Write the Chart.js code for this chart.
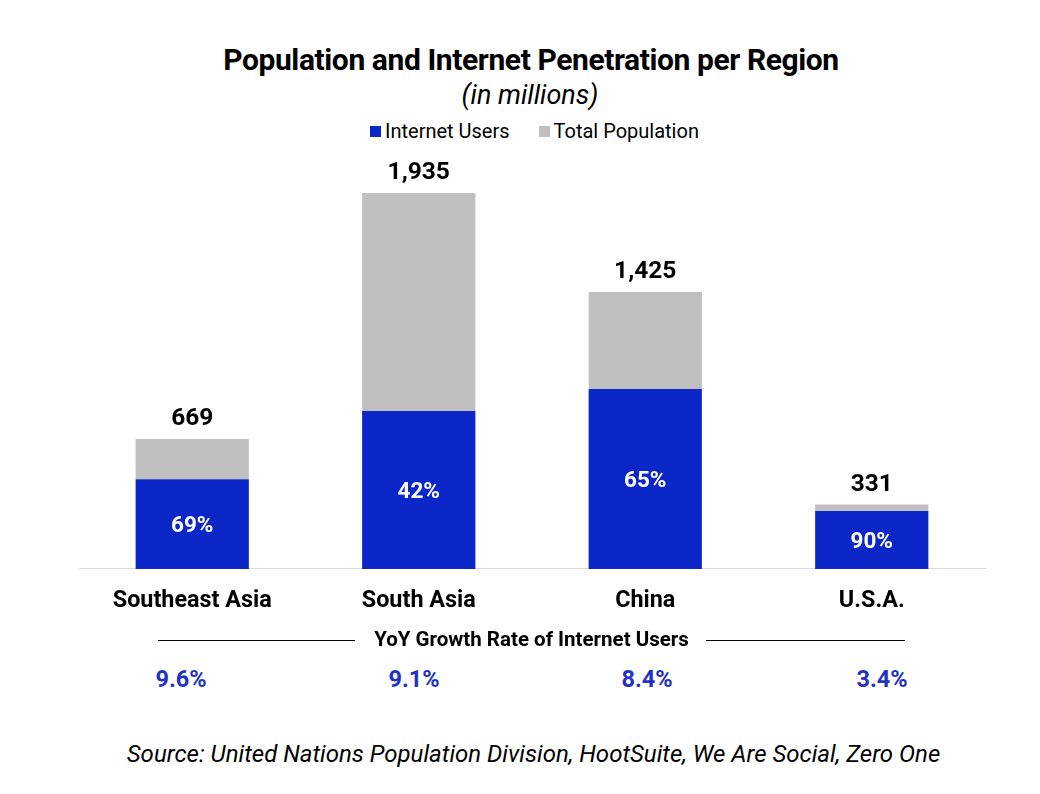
<!DOCTYPE html>
<html>
<head>
<meta charset="utf-8">
<script src="https://cdn.jsdelivr.net/npm/chart.js@4/dist/chart.umd.min.js"></script>
<style>
  html, body { margin: 0; padding: 0; background: #fff; }
  body { width: 1040px; height: 794px; position: relative; overflow: hidden; font-family: Roboto, "Noto Sans", sans-serif; color: #000; }
  .abs { position: absolute; white-space: nowrap; }
  #title { left: 0; width: 1062px; top: 42px; text-align: center; font-weight: 700; font-size: 30px; letter-spacing: -0.4px; }
  #subtitle { left: 0; width: 1060px; top: 79px; text-align: center; font-style: italic; font-size: 27px; }
  #legend { left: 370px; top: 119px; font-size: 20px; display: flex; align-items: center; }
  #legend span.sw { display: inline-block; width: 11px; height: 11px; margin-right: 4px; }
  #legend span.item { display: flex; align-items: center; margin-right: 29px; }
  #chart-wrap { position: absolute; left: 0; top: 140px; width: 1040px; height: 503px; }
  .rule { position: absolute; height: 1px; background: #000; top: 640px; }
  #yoy-title { left: 0; width: 1063px; top: 627px; text-align: center; font-weight: 700; font-size: 20.5px; }
  .yoy { top: 665px; font-weight: 700; font-size: 23.5px; color: #2233c4; transform: translateX(-50%); }
  #source { left: 0; width: 1067px; top: 740px; text-align: center; font-style: italic; font-size: 24px; }
</style>
</head>
<body>
<div id="title" class="abs">Population and Internet Penetration per Region</div>
<div id="subtitle" class="abs">(in millions)</div>
<div id="legend" class="abs"></div>
<div id="chart-wrap"><canvas id="chart"></canvas></div>
<div class="rule" style="left:158px; width:197px;"></div>
<div class="rule" style="left:706px; width:199px;"></div>
<div id="yoy-title" class="abs">YoY Growth Rate of Internet Users</div>
<div id="source" class="abs">Source: United Nations Population Division, HootSuite, We Are Social, Zero One</div>
<script>
const regions = ["Southeast Asia", "South Asia", "China", "U.S.A."];
const totalPopulation = [669, 1935, 1425, 331];
const internetUsers = [462, 813, 926, 298];
const penetration = [69, 42, 65, 90];
const yoyGrowth = ["9.6%", "9.1%", "8.4%", "3.4%"];

const BLUE = "#0c27c8";
const GRAY = "#bfbfbf";

// legenda em html
const legend = document.getElementById("legend");
legend.innerHTML =
  `<span class="item"><span class="sw" style="background:${BLUE}"></span>Internet Users</span>` +
  `<span class="item"><span class="sw" style="background:${GRAY}"></span>Total Population</span>`;

// linha de crescimento anual
const yoyCenters = [181, 414, 647, 882];
yoyGrowth.forEach((txt, i) => {
  const d = document.createElement("div");
  d.className = "abs yoy";
  d.style.left = yoyCenters[i] + "px";
  d.textContent = txt;
  document.body.appendChild(d);
});

// rótulos dentro e acima das barras
const barLabels = {
  id: "barLabels",
  afterDatasetsDraw(chart) {
    const { ctx } = chart;
    const blue = chart.getDatasetMeta(0).data;
    const gray = chart.getDatasetMeta(1).data;
    ctx.save();
    ctx.textAlign = "center";
    ctx.textBaseline = "middle";
    blue.forEach((bar, i) => {
      ctx.fillStyle = "#fff";
      ctx.font = "bold 22.5px Roboto";
      ctx.fillText(penetration[i] + "%", bar.x, (bar.y + bar.base) / 2 + 2);
    });
    gray.forEach((bar, i) => {
      ctx.fillStyle = "#000";
      ctx.font = "bold 24.5px Roboto";
      ctx.fillText(totalPopulation[i].toLocaleString("en-US"), bar.x, bar.y - 20);
    });
    ctx.restore();
  }
};

new Chart(document.getElementById("chart").getContext("2d"), {
  type: "bar",
  data: {
    labels: regions,
    datasets: [
      { label: "Internet Users", data: internetUsers, backgroundColor: BLUE },
      { label: "Total Population", data: totalPopulation.map((t, i) => t - internetUsers[i]), backgroundColor: GRAY }
    ]
  },
  options: {
    responsive: true,
    maintainAspectRatio: false,
    animation: false,
    events: [],
    layout: { padding: { top: 21, bottom: 10, left: 79, right: 55 } },
    categoryPercentage: 1,
    barPercentage: 0.5,
    plugins: { legend: { display: false }, tooltip: { enabled: false } },
    scales: {
      x: {
        stacked: true,
        grid: { display: false, drawTicks: false },
        border: { color: "#d9d9d9", width: 1 },
        ticks: { color: "#000", font: { family: "Roboto", size: 23.4, weight: "bold" }, padding: 18 }
      },
      y: { stacked: true, display: false, min: 0, max: 2100 }
    }
  },
  plugins: [barLabels]
});
</script>
</body>
</html>
